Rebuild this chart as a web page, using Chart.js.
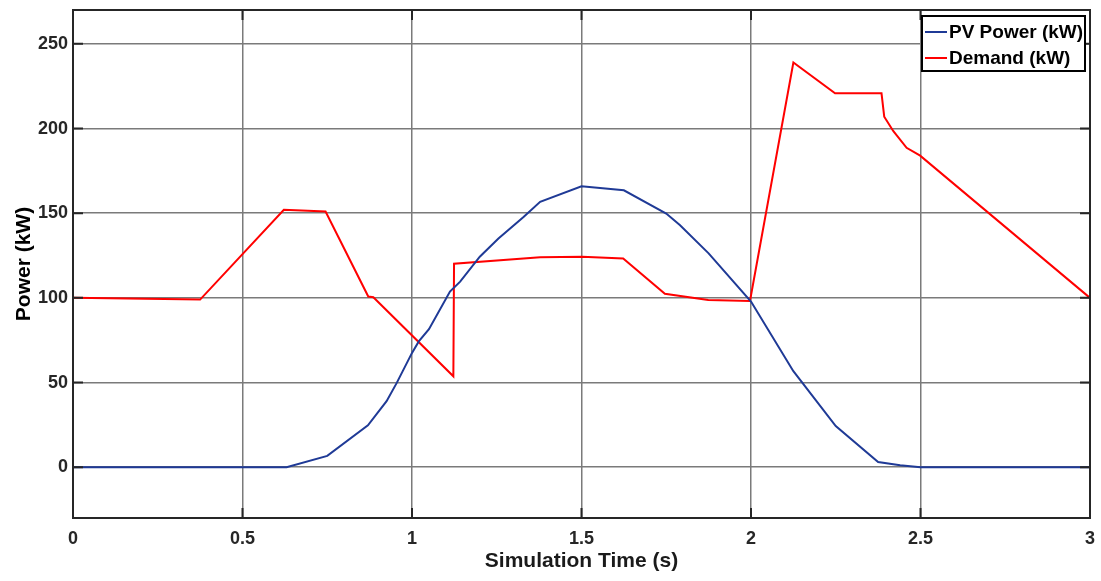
<!DOCTYPE html>
<html>
<head>
<meta charset="utf-8">
<title>PV Power and Demand</title>
<script src="https://cdn.jsdelivr.net/npm/chart.js@4/dist/chart.umd.min.js"></script>
<style>
  html, body { margin: 0; padding: 0; background: #fff; }
  #wrap { position: relative; width: 1101px; height: 581px; }
</style>
</head>
<body>
<div id="wrap"><canvas id="chart" width="1101" height="581"></canvas></div>
<script>
// Simulation time (s) and PV output (kW)
const pvTime  = [0, 0.63, 0.75, 0.87, 0.925, 0.955, 1.0, 1.02, 1.05, 1.112, 1.142, 1.2, 1.255, 1.329, 1.378, 1.5, 1.625, 1.75, 1.79, 1.875, 2.0, 2.125, 2.25, 2.375, 2.44, 2.5, 3.0];
const pvPower = [0, 0, 6.7, 24.7, 39, 49.8, 67.5, 74.3, 81.5, 103.7, 109.6, 124.3, 135, 147.8, 156.7, 165.9, 163.5, 149.8, 143, 126.3, 97.8, 56.7, 24.3, 3.1, 1.2, 0, 0];

// Simulation time (s) and load demand (kW)
const demandTime  = [0, 0.375, 0.622, 0.745, 0.871, 0.886, 1.122, 1.124, 1.378, 1.502, 1.623, 1.746, 1.874, 1.997, 2.125, 2.248, 2.385, 2.393, 2.42, 2.459, 2.499, 3.0];
const demandPower = [100, 99, 152, 151, 100.8, 100.4, 53.7, 120.2, 124, 124.3, 123.3, 102.4, 98.8, 98.2, 239, 220.8, 220.8, 207, 198.4, 188.6, 184, 100];

// Axis ticks
const xTicks = [0, 0.5, 1, 1.5, 2, 2.5, 3];
const yTicks = [0, 50, 100, 150, 200, 250];

const seriesNames = ['PV Power (kW)', 'Demand (kW)'];
const seriesColors = ['#1f3a96', '#ff0000'];

const FONT = '"Liberation Sans", Arial, Helvetica, sans-serif';
const AXIS_COLOR = '#262626';
const GRID_COLOR = '#7a7a7a';

const toPoints = (xs, ys) => xs.map((x, i) => ({ x: x, y: ys[i] }));

// Box frame, inward tick marks and in-plot legend
const framePlugin = {
  id: 'frame',
  afterDatasetsDraw(chart) {
    const { ctx, chartArea: a, scales } = chart;
    const tl = 10;
    ctx.save();
    ctx.strokeStyle = AXIS_COLOR;
    ctx.lineWidth = 2;
    ctx.beginPath();
    xTicks.forEach(v => {
      const px = scales.x.getPixelForValue(v);
      ctx.moveTo(px, a.bottom); ctx.lineTo(px, a.bottom - tl);
      ctx.moveTo(px, a.top); ctx.lineTo(px, a.top + tl);
    });
    yTicks.forEach(v => {
      const py = scales.y.getPixelForValue(v);
      ctx.moveTo(a.left, py); ctx.lineTo(a.left + tl, py);
      ctx.moveTo(a.right, py); ctx.lineTo(a.right - tl, py);
    });
    ctx.stroke();
    ctx.strokeRect(a.left, a.top, a.right - a.left, a.bottom - a.top);

    // legend
    const lx = 922, ly = 16, lw = 163, lh = 55;
    ctx.fillStyle = '#fff';
    ctx.fillRect(lx, ly, lw, lh);
    ctx.strokeStyle = '#000';
    ctx.lineWidth = 2;
    ctx.strokeRect(lx, ly, lw, lh);
    ctx.font = 'bold 19px ' + FONT;
    ctx.textBaseline = 'middle';
    ctx.textAlign = 'left';
    seriesNames.forEach((name, i) => {
      const cy = ly + 16 + i * 26;
      ctx.strokeStyle = seriesColors[i];
      ctx.lineWidth = 2;
      ctx.beginPath();
      ctx.moveTo(lx + 3, cy); ctx.lineTo(lx + 25, cy);
      ctx.stroke();
      ctx.fillStyle = '#000';
      ctx.fillText(name, lx + 27, cy + 1);
    });
    ctx.restore();
  }
};

new Chart(document.getElementById('chart'), {
  type: 'line',
  data: {
    datasets: [
      {
        label: seriesNames[0],
        data: toPoints(pvTime, pvPower),
        borderColor: seriesColors[0],
        borderWidth: 2,
        pointRadius: 0,
        tension: 0,
        fill: false
      },
      {
        label: seriesNames[1],
        data: toPoints(demandTime, demandPower),
        borderColor: seriesColors[1],
        borderWidth: 2,
        pointRadius: 0,
        tension: 0,
        fill: false
      }
    ]
  },
  options: {
    responsive: false,
    animation: false,
    events: [],
    layout: { padding: { left: 0, right: 11, top: 10, bottom: 0 } },
    plugins: {
      legend: { display: false },
      tooltip: { enabled: false },
      title: { display: false }
    },
    scales: {
      x: {
        type: 'linear',
        min: 0,
        max: 3,
        afterBuildTicks: s => { s.ticks = xTicks.map(v => ({ value: v })); },
        afterFit: s => { s.height = 63; s.paddingLeft = 0; s.paddingRight = 0; },
        ticks: {
          color: AXIS_COLOR,
          font: { family: FONT, size: 18, weight: 'bold' },
          padding: 10,
          maxRotation: 0,
          autoSkip: false,
          callback: v => String(v)
        },
        grid: { color: GRID_COLOR, lineWidth: 1.5, drawTicks: false },
        border: { display: false },
        title: {
          display: true,
          text: 'Simulation Time (s)',
          color: '#1a1a1a',
          font: { family: FONT, size: 21, weight: 'bold' },
          padding: { top: 0, bottom: 7 }
        }
      },
      y: {
        type: 'linear',
        min: -30,
        max: 270,
        afterBuildTicks: s => { s.ticks = yTicks.map(v => ({ value: v })); },
        afterFit: s => { s.width = 73; s.paddingTop = 0; s.paddingBottom = 0; },
        ticks: {
          color: AXIS_COLOR,
          font: { family: FONT, size: 18, weight: 'bold' },
          padding: 5,
          autoSkip: false,
          callback: v => String(v)
        },
        grid: { color: GRID_COLOR, lineWidth: 1.5, drawTicks: false },
        border: { display: false },
        title: {
          display: true,
          text: 'Power (kW)',
          color: '#000',
          font: { family: FONT, size: 21, weight: 'bold' },
          padding: { top: 12, bottom: 0 }
        }
      }
    }
  },
  plugins: [framePlugin]
});
</script>
</body>
</html>
